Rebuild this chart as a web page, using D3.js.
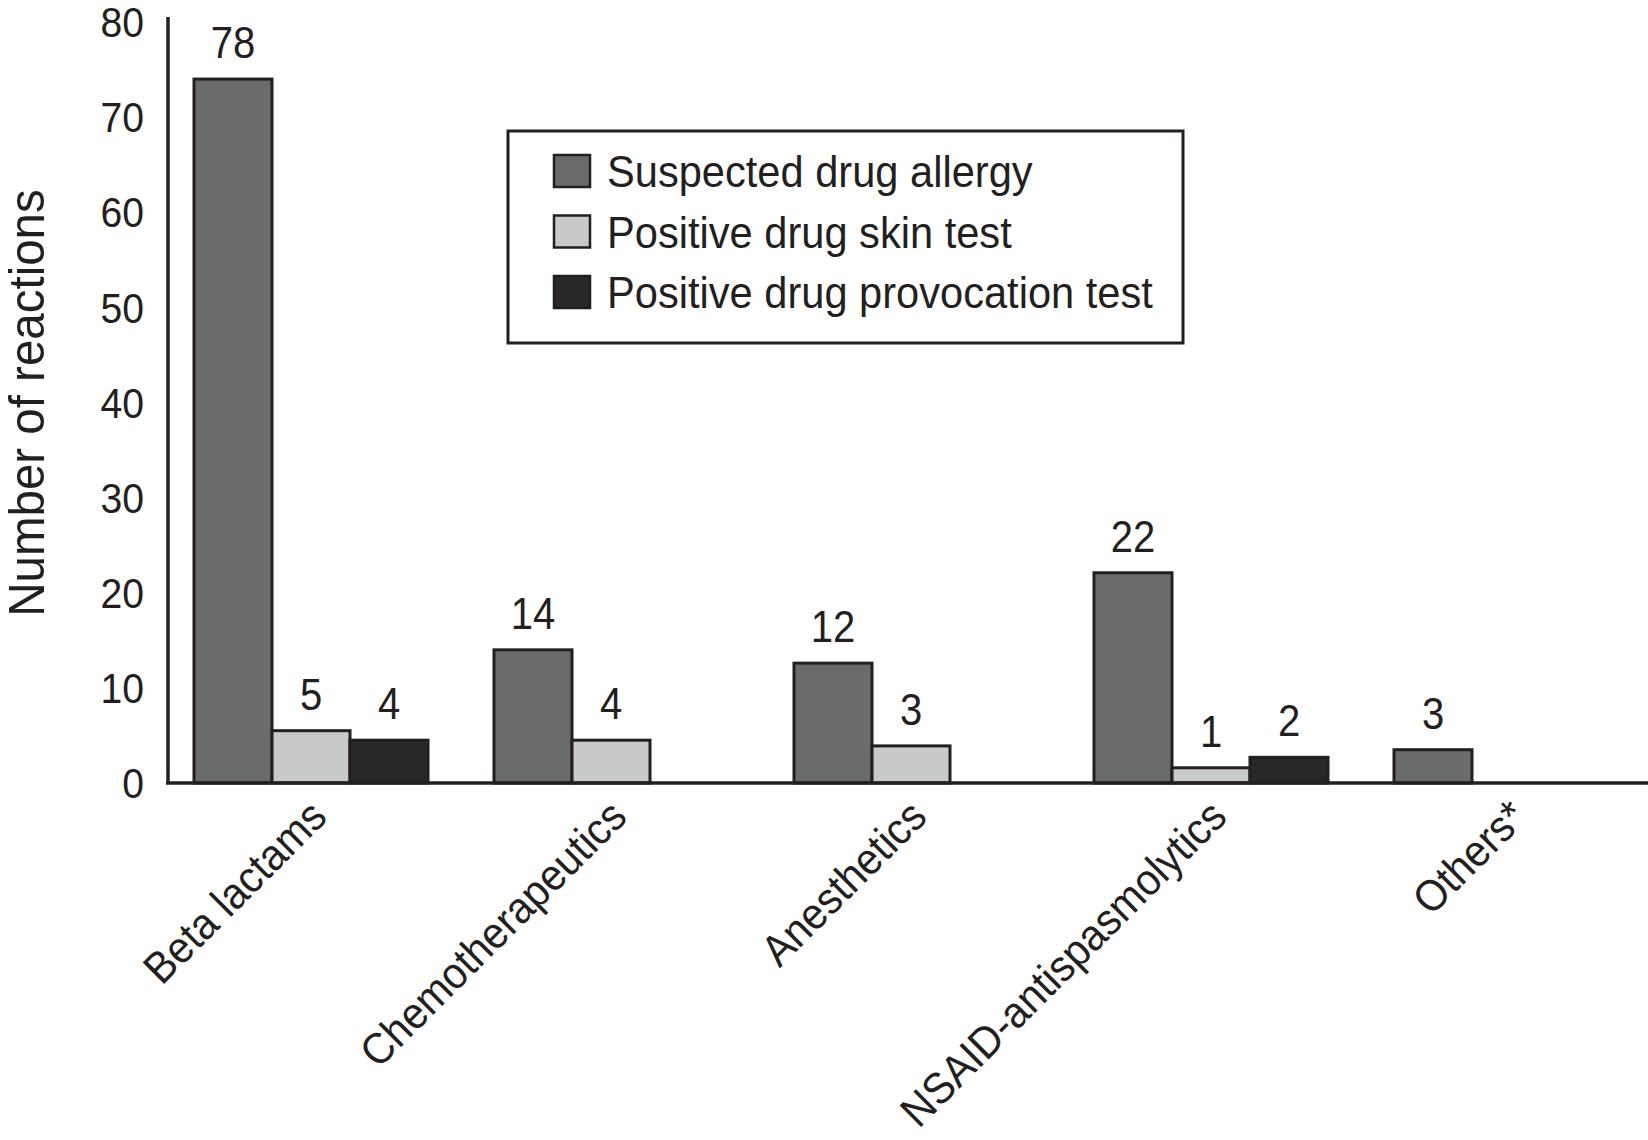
<!DOCTYPE html>
<html>
<head>
<meta charset="utf-8">
<script src="https://cdn.jsdelivr.net/npm/d3@7"></script>
<style>
  body { margin: 0; background: #fff; }
  text { font-family: "Liberation Sans", Arial, sans-serif; fill: #231f20; }
</style>
</head>
<body>
<div id="chart"></div>
<script>
// Data
const categories = ["Beta lactams", "Chemotherapeutics", "Anesthetics", "NSAID-antispasmolytics", "Others*"];
const seriesNames = ["Suspected drug allergy", "Positive drug skin test", "Positive drug provocation test"];
// bar heights as drawn
const suspected = [74, 14, 12.6, 22.1, 3.5];
const skinTest = [5.5, 4.5, 3.9, 1.6, null];
const provocation = [4.5, null, null, 2.7, null];
// numbers printed above the bars
const suspectedLabels = ["78", "14", "12", "22", "3"];
const skinLabels = ["5", "4", "3", "1", null];
const provocationLabels = ["4", null, null, "2", null];
const yTicks = [0, 10, 20, 30, 40, 50, 60, 70, 80];

const colors = ["#6a6b6d", "#c8c9cb", "#282627"];
const series = [suspected, skinTest, provocation];
const labels = [suspectedLabels, skinLabels, provocationLabels];

const WIDTH = 1648, HEIGHT = 1140;
const SQUEEZE = 0.91; // the original type is a bit condensed

const svg = d3.select("#chart").append("svg")
    .attr("width", WIDTH)
    .attr("height", HEIGHT);

const x = d3.scaleBand()
    .domain(categories)
    .range([161, 1661])
    .paddingInner(0.22)
    .paddingOuter(0.11);

const xSub = d3.scaleBand()
    .domain([0, 1, 2])
    .range([0, x.bandwidth()]);

const y = d3.scaleLinear()
    .domain([0, 80])
    .range([783, 22]);

// y tick labels
const yAxis = svg.append("g")
    .attr("transform", "translate(168,0)")
    .call(d3.axisLeft(y).tickValues(yTicks).tickSize(0));
yAxis.select(".domain").remove();
yAxis.selectAll("text")
    .attr("x", -24 / SQUEEZE)
    .attr("dy", "0.34em")
    .attr("transform", `scale(${SQUEEZE},1)`)
    .attr("fill", "#231f20")
    .style("font-size", "43px")
    .style("font-family", "'Liberation Sans', Arial, sans-serif");

// bars
const rows = [];
categories.forEach((c, i) => {
  series.forEach((s, j) => {
    if (s[i] != null) rows.push({cat: c, k: j, v: s[i], label: labels[j][i]});
  });
});

svg.append("g").selectAll("rect")
  .data(rows)
  .join("rect")
    .attr("x", d => x(d.cat) + xSub(d.k))
    .attr("y", d => y(d.v))
    .attr("width", xSub.bandwidth())
    .attr("height", d => y(0) - y(d.v))
    .attr("fill", d => colors[d.k])
    .attr("stroke", "#231f20")
    .attr("stroke-width", 3);

svg.append("g").selectAll("text")
  .data(rows.filter(d => d.label))
  .join("text")
    .attr("transform", d => `translate(${x(d.cat) + xSub(d.k) + xSub.bandwidth() / 2},${y(d.v) - 21}) scale(${SQUEEZE},1)`)
    .attr("text-anchor", "middle")
    .style("font-size", "44px")
    .text(d => d.label);

// axis lines
svg.append("line")
    .attr("x1", 168).attr("x2", 168)
    .attr("y1", 17).attr("y2", 784)
    .attr("stroke", "#231f20").attr("stroke-width", 3.5);
svg.append("line")
    .attr("x1", 166).attr("x2", 1648)
    .attr("y1", 783).attr("y2", 783)
    .attr("stroke", "#231f20").attr("stroke-width", 3.5);

// category labels, rotated
svg.append("g").selectAll("text")
  .data(categories)
  .join("text")
    .attr("transform", d => `translate(${x(d) + x.bandwidth() / 2 + 18},819) rotate(-45) scale(0.93,1)`)
    .attr("text-anchor", "end")
    .style("font-size", "44px")
    .text(d => d);

// y axis title
svg.append("text")
    .attr("transform", "translate(44,403) rotate(-90) scale(0.95,1)")
    .attr("text-anchor", "middle")
    .style("font-size", "50px")
    .text("Number of reactions");

// legend
const legend = svg.append("g");
legend.append("rect")
    .attr("x", 508).attr("y", 131)
    .attr("width", 675).attr("height", 212)
    .attr("fill", "#fff")
    .attr("stroke", "#231f20").attr("stroke-width", 3);

const legendY = d3.scalePoint().domain(seriesNames).range([171, 292]);

legend.selectAll("rect.sw")
  .data(seriesNames)
  .join("rect")
    .attr("class", "sw")
    .attr("x", 554)
    .attr("y", d => legendY(d) - 16)
    .attr("width", 36).attr("height", 32)
    .attr("fill", (d, i) => colors[i])
    .attr("stroke", "#231f20").attr("stroke-width", 2.5);

legend.selectAll("text")
  .data(seriesNames)
  .join("text")
    .attr("transform", d => `translate(607,${legendY(d) + 16}) scale(0.925,1)`)
    .style("font-size", "45px")
    .text(d => d);
</script>
</body>
</html>
